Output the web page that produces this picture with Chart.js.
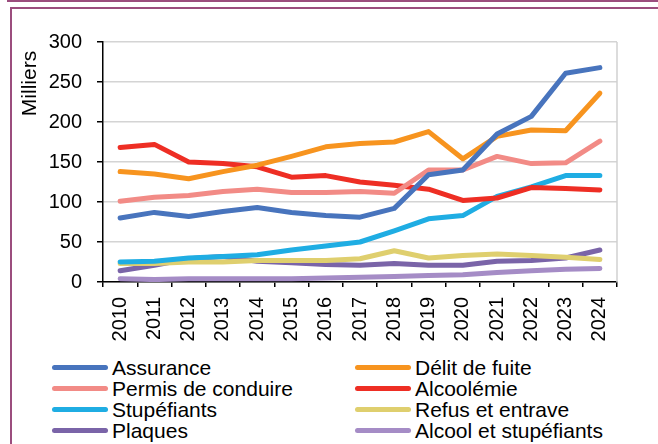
<!DOCTYPE html>
<html>
<head>
<meta charset="utf-8">
<script src="https://cdn.jsdelivr.net/npm/chart.js@4"></script>
<style>
  html, body { margin: 0; padding: 0; background: #fff; }
  body { width: 658px; height: 444px; position: relative; overflow: hidden; font-family: "Liberation Sans", Arial, sans-serif; }
  #topline { position: absolute; left: 7px; top: 0; width: 660px; height: 0; border-top: 2px solid #9b4d7e; }
  #frame { position: absolute; left: 10px; top: 7px; width: 660px; height: 450px; border-left: 2px solid #9b4d7e; border-top: 2px solid #9b4d7e; }
  #wrap { position: absolute; left: 0; top: 0; width: 658px; height: 345px; }
  #legend { position: absolute; left: 0; top: 357px; width: 658px; }
  .item { position: absolute; height: 21px; line-height: 21px; font-size: 21px; color: #000; white-space: nowrap; }
  .item span.sw { position: absolute; top: 8px; width: 56px; height: 5px; border-radius: 3px; }
  .item span.tx { position: absolute; left: 60px; top: 0; }
</style>
</head>
<body>
<div id="topline"></div>
<div id="frame"></div>
<div id="wrap"><canvas id="chart"></canvas></div>
<div id="legend"></div>
<script>
const years = ['2010', '2011', '2012', '2013', '2014', '2015', '2016', '2017', '2018', '2019', '2020', '2021', '2022', '2023', '2024'];

const assurance = [80, 87, 82, 88, 93, 87, 83, 81, 92, 134, 140, 185, 207, 261, 268];
const delitFuite = [138, 135, 129, 138, 146, 157, 169, 173, 175, 188, 154, 182, 190, 189, 236];
const permis = [101, 106, 108, 113, 116, 112, 112, 113, 111, 140, 140, 157, 148, 149, 176];
const alcoolemie = [168, 172, 150, 148, 144, 131, 133, 125, 121, 116, 102, 105, 118, 117, 115];
const stupefiants = [25, 26, 30, 32, 34, 40, 45, 50, 64, 79, 83, 107, 119, 133, 133];
const refus = [23, 23, 25, 25, 27, 27, 27, 29, 39, 30, 33, 35, 33, 31, 28];
const plaques = [14, 21, 29, 32, 26, 24, 22, 21, 23, 21, 21, 26, 27, 30, 40];
const alcoolStup = [4, 3, 4, 4, 4, 4, 5, 6, 7, 8, 9, 12, 14, 16, 17];

const yTicks = [0, 50, 100, 150, 200, 250, 300];
const yTitle = 'Milliers';

const series = [
    { label: 'Assurance', data: assurance, color: '#4874bd' },
    { label: 'Délit de fuite', data: delitFuite, color: '#f7941f' },
    { label: 'Permis de conduire', data: permis, color: '#f28b86' },
    { label: 'Alcoolémie', data: alcoolemie, color: '#ee2e24' },
    { label: 'Stupéfiants', data: stupefiants, color: '#1fade3' },
    { label: 'Refus et entrave', data: refus, color: '#dfcf6e' },
    { label: 'Plaques', data: plaques, color: '#7a64a8' },
    { label: 'Alcool et stupéfiants', data: alcoolStup, color: '#a58cc6' },
];

// gray border on the right side of the plot + axis title near the top
const plotExtras = {
    id: 'plotExtras',
    beforeDatasetsDraw(chart) {
        const a = chart.chartArea;
        const ctx = chart.ctx;
        ctx.save();
        ctx.strokeStyle = '#d0d0d0';
        ctx.lineWidth = 1.5;
        ctx.beginPath();
        ctx.moveTo(a.right, a.top);
        ctx.lineTo(a.right, a.bottom);
        ctx.stroke();
        ctx.restore();
    },
    afterDraw(chart) {
        const ctx = chart.ctx;
        ctx.save();
        ctx.translate(30.5, 83.5);
        ctx.rotate(-Math.PI / 2);
        ctx.font = '21px "Liberation Sans"';
        ctx.fillStyle = '#000';
        ctx.textAlign = 'center';
        ctx.textBaseline = 'middle';
        ctx.fillText(yTitle, 0, 0);
        ctx.restore();
    }
};

const chart = new Chart(document.getElementById('chart'), {
    type: 'line',
    data: {
        labels: years,
        datasets: series.map(s => ({
            label: s.label,
            data: s.data,
            borderColor: s.color,
            backgroundColor: s.color,
            borderWidth: 5,
            borderCapStyle: 'round',
            borderJoinStyle: 'round',
            pointRadius: 0,
            tension: 0,
        }))
    },
    options: {
        responsive: true,
        maintainAspectRatio: false,
        animation: false,
        layout: { padding: { top: 42, right: 41, left: 0, bottom: 0 } },
        plugins: {
            legend: { display: false },
            tooltip: { enabled: false },
        },
        scales: {
            x: {
                offset: true,
                afterFit: scale => { scale.height = 63; },
                grid: {
                    offset: true,
                    drawOnChartArea: false,
                    color: '#000',
                    tickLength: 5,
                    lineWidth: 1.5,
                },
                border: { color: '#000', width: 1.5 },
                ticks: {
                    minRotation: 90,
                    maxRotation: 90,
                    color: '#000',
                    padding: 10,
                    font: { family: 'Liberation Sans', size: 20 },
                },
            },
            y: {
                min: 0,
                max: 300,
                afterFit: scale => { scale.width = 103; },
                afterBuildTicks: scale => { scale.ticks = yTicks.map(v => ({ value: v })); },
                grid: {
                    color: '#d4d4d4',
                    lineWidth: 1.5,
                    tickColor: '#000',
                    tickLength: 6,
                },
                border: { color: '#000', width: 1.5 },
                ticks: {
                    color: '#000',
                    padding: 15,
                    font: { family: 'Liberation Sans', size: 20 },
                },
            }
        }
    },
    plugins: [plotExtras]
});

// legend in two columns, built from the datasets
const legendEl = document.getElementById('legend');
chart.data.datasets.forEach((ds, i) => {
    const col = i % 2;
    const row = Math.floor(i / 2);
    const item = document.createElement('div');
    item.className = 'item';
    item.style.left = (col === 0 ? 52 : 355) + 'px';
    item.style.top = (row * 21) + 'px';
    item.innerHTML = '<span class="sw"></span><span class="tx"></span>';
    item.querySelector('.sw').style.background = ds.borderColor;
    item.querySelector('.tx').textContent = ds.label;
    legendEl.appendChild(item);
});
</script>
</body>
</html>
